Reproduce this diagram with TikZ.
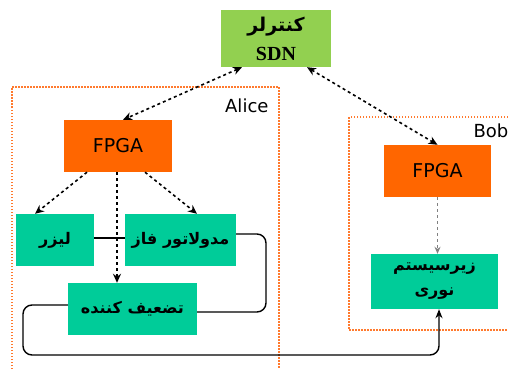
\documentclass[tikz,border=0pt]{standalone}
\usepackage{fontspec}
\setmainfont{DejaVu Sans}
\newfontfamily\fafont[Script=Arabic]{DejaVu Sans}
\newfontfamily\sdnfont{Liberation Serif}
\TeXXeTstate=1
\usetikzlibrary{arrows.meta}
\definecolor{sdngreen}{HTML}{92D050}
\definecolor{fpgaorange}{HTML}{FF6600}
\definecolor{opticteal}{HTML}{00CC99}
\definecolor{frameorange}{HTML}{FF7A2E}
\tikzset{
  ctrlbox/.style={fill=sdngreen, minimum width=110pt, minimum height=57pt, align=center, inner sep=1pt},
  fpgabox/.style={fill=fpgaorange, minimum height=52pt, font=\fontsize{19}{22}\selectfont},
  optbox/.style={fill=opticteal, minimum height=52pt, align=center, inner sep=1pt},
  fatext/.style={font=\fafont\bfseries\fontsize{16}{25}\selectfont},
  ctrlarrow/.style={line width=1.6pt, dashed, {Stealth[length=9pt,width=8pt]}-{Stealth[length=9pt,width=8pt]}},
  cmdarrow/.style={line width=1.6pt, dashed, -{Stealth[length=9pt,width=8pt]}},
  wire/.style={line width=1.4pt, rounded corners=9pt},
  frame/.style={frameorange, line width=1.5pt, dash pattern=on 1.5pt off 1.5pt}
}
\begin{document}
\begin{tikzpicture}[x=1pt, y=-1pt]
\useasboundingbox (0,0) rectangle (508,369);

% frames of Alice and Bob
\draw[frame] (12,369) -- (12,87) -- (279,87) -- (279,369);
\draw[frame] (508,117) -- (349,117) -- (349,330) -- (508,330);
\node[anchor=east, font=\fontsize{18}{20}\selectfont] (alicelabel) at (272,106) {Alice};
\node[anchor=west, font=\fontsize{18}{20}\selectfont] (boblabel) at (470,131) {Bob};

% controller
\node[ctrlbox] (sdn) at (276,38.5) {{\fafont\bfseries\fontsize{19}{22}\selectfont\beginR کنترلر\endR}\\[10pt] {\sdnfont\bfseries\fontsize{20}{22}\selectfont SDN}};

% Alice
\node[fpgabox, minimum width=108pt] (fpgaA) at (118,146) {FPGA};
\node[optbox, fatext, minimum width=78pt] (laser) at (55,240) {\beginR لیزر\endR};
\node[optbox, fatext, minimum width=111pt] (mod) at (180.5,240) {\beginR مدولاتور فاز\endR};
\node[optbox, fatext, minimum width=129pt] (att) at (132.5,309) {\beginR تضعیف کننده\endR};

% Bob
\node[fpgabox, minimum width=107pt] (fpgaB) at (437.5,171) {FPGA};
\node[optbox, fatext, minimum width=127pt, minimum height=55pt] (opt) at (434.5,281.5) {\beginR زیرسیستم\endR\\\beginR نوری\endR};

% control links
\draw[ctrlarrow] ([xshift=-34pt]sdn.south) -- ([xshift=5pt]fpgaA.north);
\draw[ctrlarrow] ([xshift=31pt]sdn.south) -- (fpgaB.north);
\draw[cmdarrow] ([xshift=-31pt]fpgaA.south) -- ([xshift=-20pt]laser.north);
\draw[cmdarrow] ([xshift=27pt]fpgaA.south) -- ([xshift=16.5pt]mod.north);
\draw[gray, line width=1.2pt, dashed, -{Stealth[length=7pt,width=6pt]}] (fpgaB.south) -- ([xshift=3pt]opt.north);

% optical path
\draw[wire] ([yshift=2pt]laser.east) -- ([yshift=2pt]mod.west);
\draw[wire] ([yshift=6pt]mod.east) -| (266,312) -- ([yshift=-3pt]att.east);
\draw[wire, -{Stealth[length=9pt,width=7pt]}] ([yshift=4pt]att.west) -| (23,355) -| ([xshift=4.5pt]opt.south);
\draw[cmdarrow] ([xshift=-1pt]fpgaA.south) -- ([xshift=-15.5pt]att.north);
\end{tikzpicture}
\end{document}
